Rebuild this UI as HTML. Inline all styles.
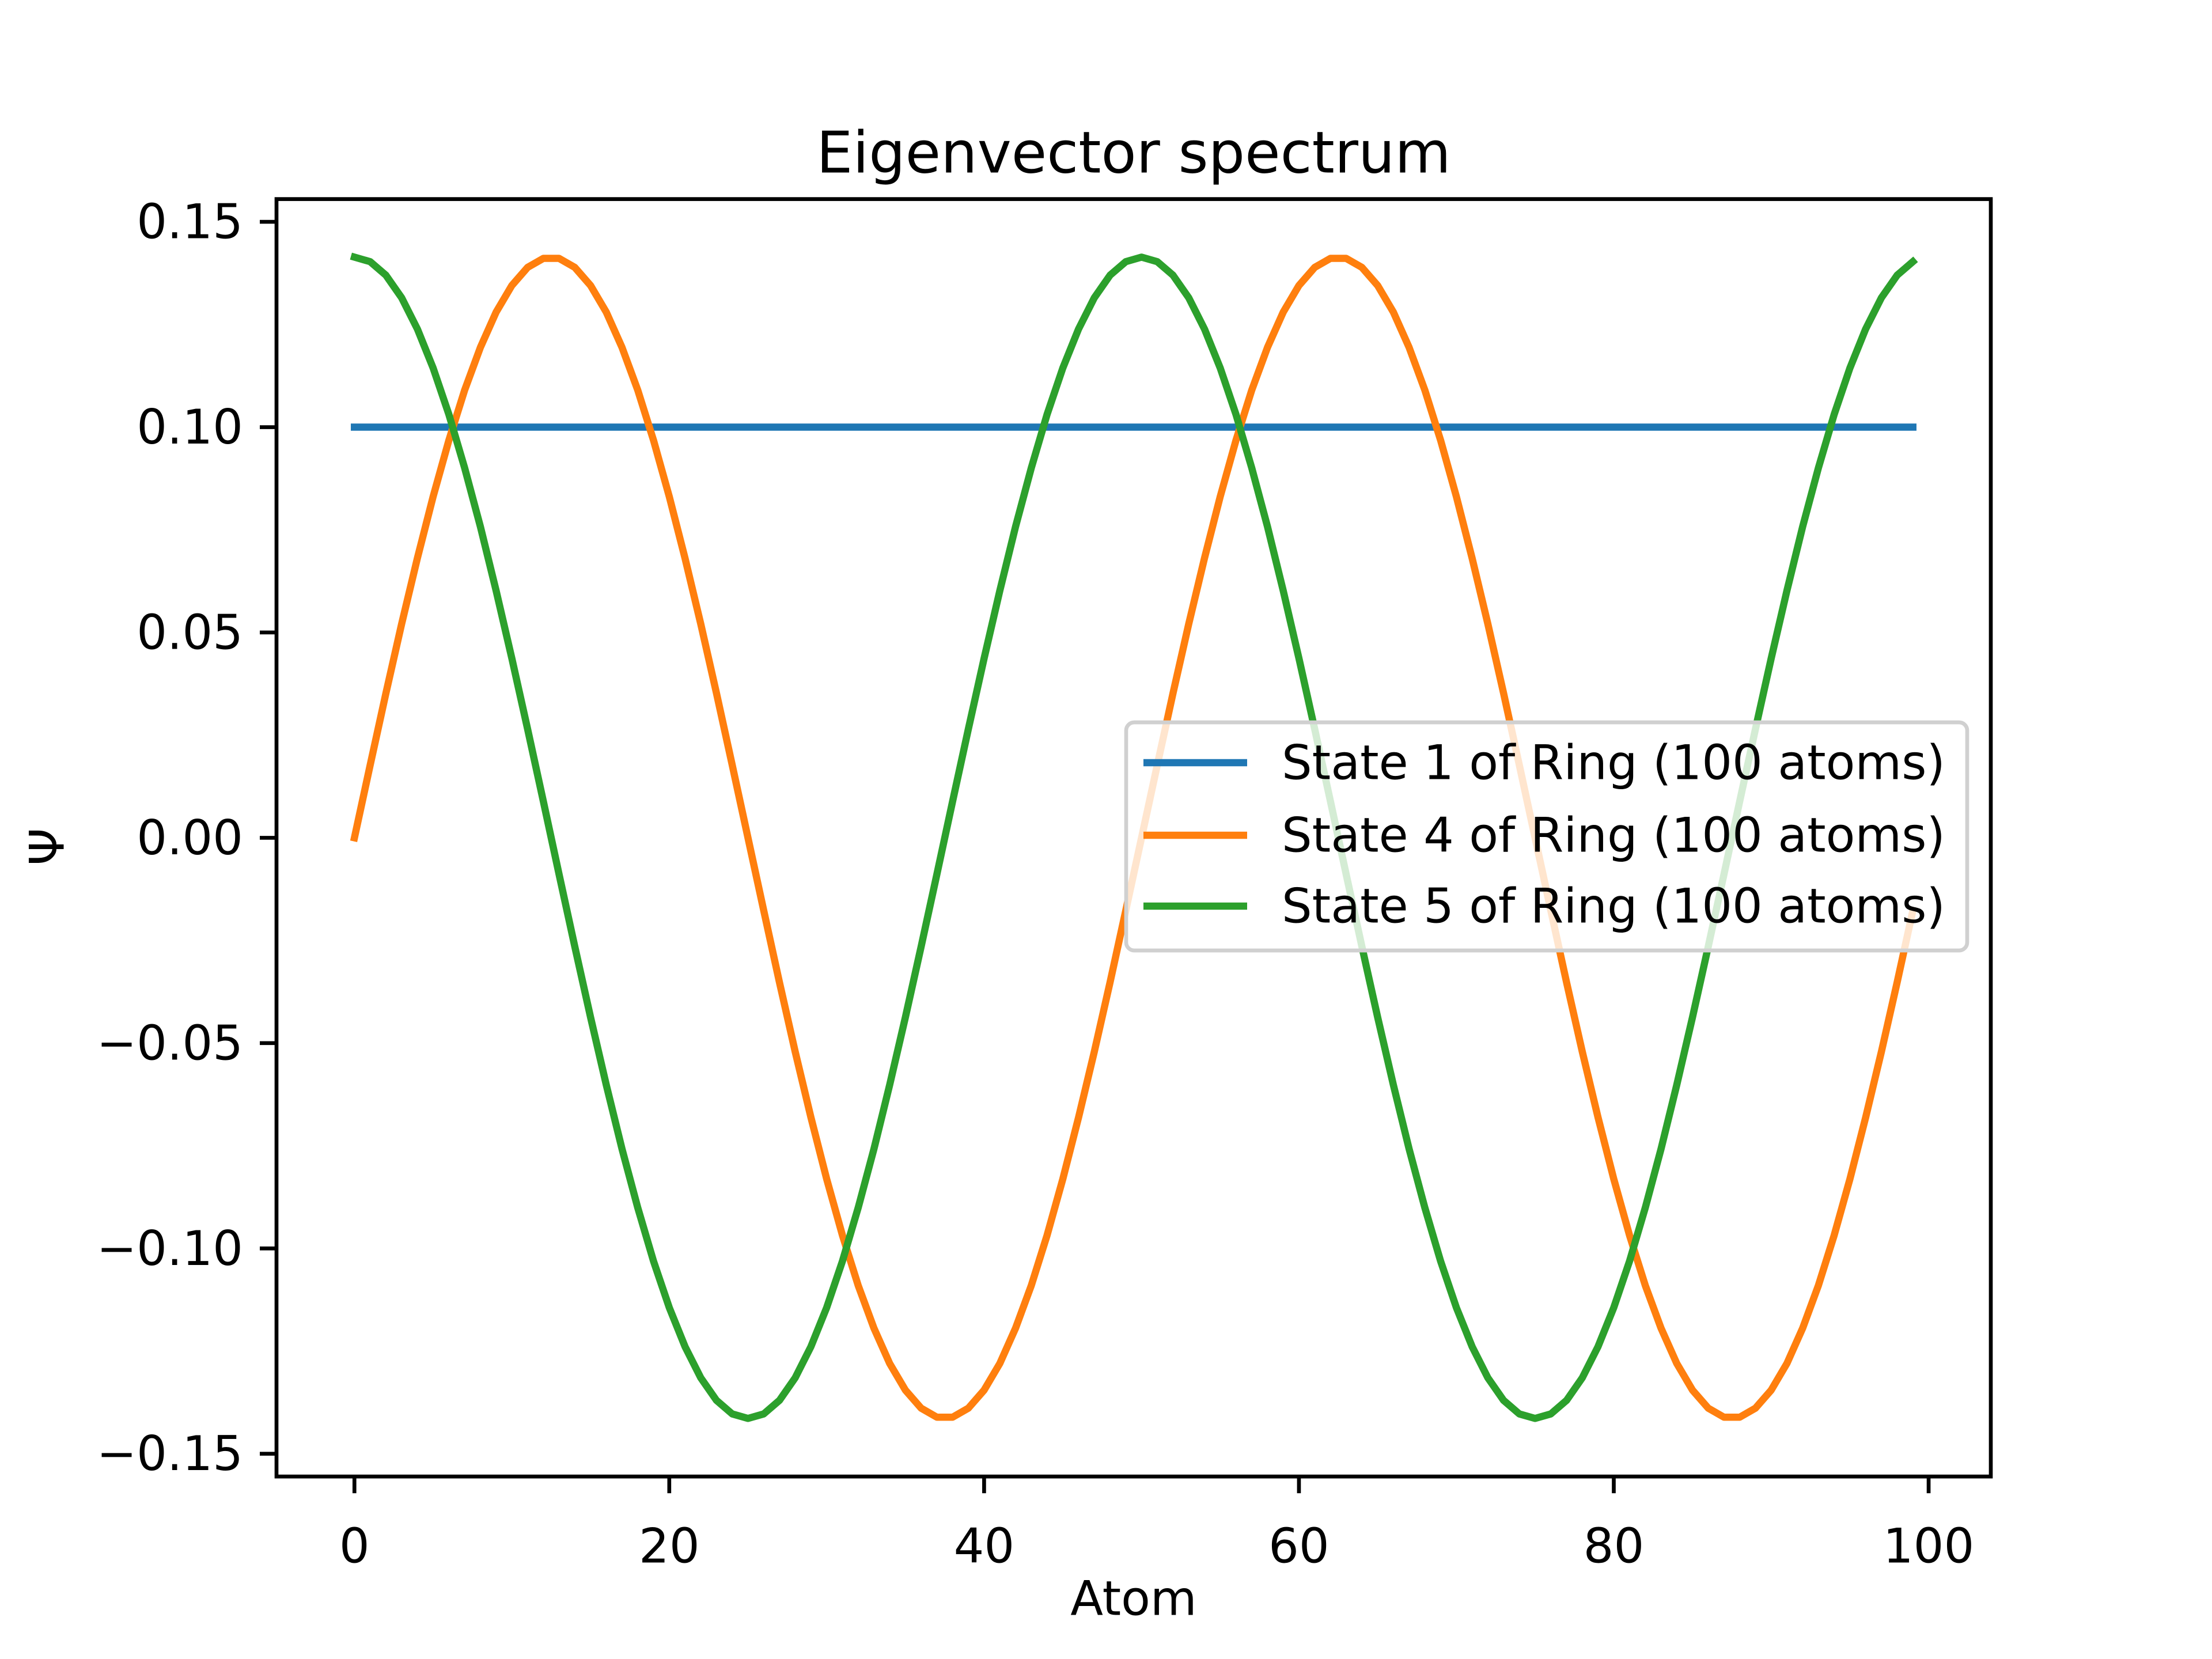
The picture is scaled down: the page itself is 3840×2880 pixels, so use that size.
<!DOCTYPE html>
<html><head><meta charset="utf-8"><style>
html,body{margin:0;padding:0;background:#fff}
svg{display:block;font-family:"DejaVu Sans","Liberation Sans",sans-serif}
</style></head><body>
<svg id="chart" width="3840" height="2880" viewBox="0 0 3840 2880" xmlns="http://www.w3.org/2000/svg">
<rect x="0" y="0" width="3840" height="2880" fill="#fff"/>
<text x="1968" y="265" font-size="100" text-anchor="middle" dominant-baseline="central">Eigenvector spectrum</text>
<g id="plot"></g>
<rect x="480" y="345.6" width="2976" height="2217.6" fill="none" stroke="#000" stroke-width="6.67"/>
<g id="xticks"></g>
<g id="yticks"></g>
<text x="1968" y="2775" font-size="83" text-anchor="middle" dominant-baseline="central">Atom</text>
<text x="82" y="1470" font-size="83" text-anchor="middle" dominant-baseline="central" transform="rotate(-90 82 1470)">Ψ</text>
<g id="legend"></g>
</svg>
<script>
const xTicks = [0, 20, 40, 60, 80, 100];
const yTicks = [-0.15, -0.10, -0.05, 0.00, 0.05, 0.10, 0.15];
const yTickLabels = ["\u22120.15", "\u22120.10", "\u22120.05", "0.00", "0.05", "0.10", "0.15"];
const seriesNames = ["State 1 of Ring (100 atoms)", "State 4 of Ring (100 atoms)", "State 5 of Ring (100 atoms)"];
const seriesColors = ["#1f77b4", "#ff7f0e", "#2ca02c"];
const state1 = [0.1,0.1,0.1,0.1,0.1,0.1,0.1,0.1,0.1,0.1,0.1,0.1,0.1,0.1,0.1,0.1,0.1,0.1,0.1,0.1,0.1,0.1,0.1,0.1,0.1,0.1,0.1,0.1,0.1,0.1,0.1,0.1,0.1,0.1,0.1,0.1,0.1,0.1,0.1,0.1,0.1,0.1,0.1,0.1,0.1,0.1,0.1,0.1,0.1,0.1,0.1,0.1,0.1,0.1,0.1,0.1,0.1,0.1,0.1,0.1,0.1,0.1,0.1,0.1,0.1,0.1,0.1,0.1,0.1,0.1,0.1,0.1,0.1,0.1,0.1,0.1,0.1,0.1,0.1,0.1,0.1,0.1,0.1,0.1,0.1,0.1,0.1,0.1,0.1,0.1,0.1,0.1,0.1,0.1,0.1,0.1,0.1,0.1,0.1,0.1];
const state4 = [0,0.0177,0.0352,0.0521,0.0681,0.0831,0.0968,0.1090,0.1194,0.1280,0.1345,0.1389,0.1411,0.1411,0.1389,0.1345,0.1280,0.1194,0.1090,0.0968,0.0831,0.0681,0.0521,0.0352,0.0177,0,-0.0177,-0.0352,-0.0521,-0.0681,-0.0831,-0.0968,-0.1090,-0.1194,-0.1280,-0.1345,-0.1389,-0.1411,-0.1411,-0.1389,-0.1345,-0.1280,-0.1194,-0.1090,-0.0968,-0.0831,-0.0681,-0.0521,-0.0352,-0.0177,
0,0.0177,0.0352,0.0521,0.0681,0.0831,0.0968,0.1090,0.1194,0.1280,0.1345,0.1389,0.1411,0.1411,0.1389,0.1345,0.1280,0.1194,0.1090,0.0968,0.0831,0.0681,0.0521,0.0352,0.0177,0,-0.0177,-0.0352,-0.0521,-0.0681,-0.0831,-0.0968,-0.1090,-0.1194,-0.1280,-0.1345,-0.1389,-0.1411,-0.1411,-0.1389,-0.1345,-0.1280,-0.1194,-0.1090,-0.0968,-0.0831,-0.0681,-0.0521,-0.0352,-0.0177];
const state5 = [0.1414,0.1403,0.1370,0.1315,0.1239,0.1144,0.1031,0.0901,0.0758,0.0602,0.0437,0.0265,0.0089,-0.0089,-0.0265,-0.0437,-0.0602,-0.0758,-0.0901,-0.1031,-0.1144,-0.1239,-0.1315,-0.1370,-0.1403,-0.1414,-0.1403,-0.1370,-0.1315,-0.1239,-0.1144,-0.1031,-0.0901,-0.0758,-0.0602,-0.0437,-0.0265,-0.0089,0.0089,0.0265,0.0437,0.0602,0.0758,0.0901,0.1031,0.1144,0.1239,0.1315,0.1370,0.1403,
0.1414,0.1403,0.1370,0.1315,0.1239,0.1144,0.1031,0.0901,0.0758,0.0602,0.0437,0.0265,0.0089,-0.0089,-0.0265,-0.0437,-0.0602,-0.0758,-0.0901,-0.1031,-0.1144,-0.1239,-0.1315,-0.1370,-0.1403,-0.1414,-0.1403,-0.1370,-0.1315,-0.1239,-0.1144,-0.1031,-0.0901,-0.0758,-0.0602,-0.0437,-0.0265,-0.0089,0.0089,0.0265,0.0437,0.0602,0.0758,0.0901,0.1031,0.1144,0.1239,0.1315,0.1370,0.1403];
const allSeries = [state1, state4, state5];

const NS = "http://www.w3.org/2000/svg";
const L = 480, R = 3456, T = 345.6, B = 2563.2;
function mk(tag, attrs, parent) { const e = document.createElementNS(NS, tag); for (const k in attrs) e.setAttribute(k, attrs[k]); parent.appendChild(e); return e; }
let ymin = Infinity, ymax = -Infinity;
allSeries.forEach(s => s.forEach(v => { ymin = Math.min(ymin, v); ymax = Math.max(ymax, v); }));
const n = Math.max(...allSeries.map(s => s.length));
const xmin = 0 - 0.05 * (n - 1), xmax = (n - 1) * 1.05;
const yr = ymax - ymin; const y0 = ymin - 0.05 * yr, y1 = ymax + 0.05 * yr;
const sx = v => L + (v - xmin) / (xmax - xmin) * (R - L);
const sy = v => B - (v - y0) / (y1 - y0) * (B - T);

const plot = document.getElementById('plot');
allSeries.forEach((s, si) => {
  const d = s.map((v, i) => (i ? 'L' : 'M') + sx(i).toFixed(2) + ' ' + sy(v).toFixed(2)).join(' ');
  const p = mk('path', { d: d, fill: 'none', stroke: seriesColors[si], 'stroke-width': 12.5, 'stroke-linejoin': 'round', 'stroke-linecap': 'square' }, plot);
  
  
});

const xg = document.getElementById('xticks');
xTicks.forEach(t => {
  const x = sx(t);
  const ln = mk('line', { x1: x, x2: x, y1: B, y2: B + 29, stroke: '#000', 'stroke-width': 6.67 }, xg);
  
  
  const tx = mk('text', { x: x, y: 2684, 'font-size': 83, 'text-anchor': 'middle', 'dominant-baseline': 'central' }, xg);
  tx.textContent = String(t);
  
  
});
const yg = document.getElementById('yticks');
yTicks.forEach((t, i) => {
  const y = sy(t);
  const ln = mk('line', { x1: L - 29, x2: L, y1: y, y2: y, stroke: '#000', 'stroke-width': 6.67 }, yg);
  
  
  const tx = mk('text', { x: 422, y: y, 'font-size': 83, 'text-anchor': 'end', 'dominant-baseline': 'central' }, yg);
  tx.textContent = yTickLabels[i];
  
  
});

const lg = document.getElementById('legend');
const box = mk('rect', { x: 1955, y: 1254, width: 1460, height: 396, rx: 14, fill: '#fff', 'fill-opacity': 0.8, stroke: '#d0d0d0', 'stroke-width': 6.67 }, lg);


const rowsY = [1324, 1450, 1573];
seriesNames.forEach((nm, i) => {
  const ln = mk('line', { x1: 1985, x2: 2165, y1: rowsY[i], y2: rowsY[i], stroke: seriesColors[i], 'stroke-width': 12.5 }, lg);
  
  
  const tx = mk('text', { x: 2225, y: rowsY[i], 'font-size': 83, 'dominant-baseline': 'central' }, lg);
  tx.textContent = nm;
  
  
});
</script>
</body></html>
